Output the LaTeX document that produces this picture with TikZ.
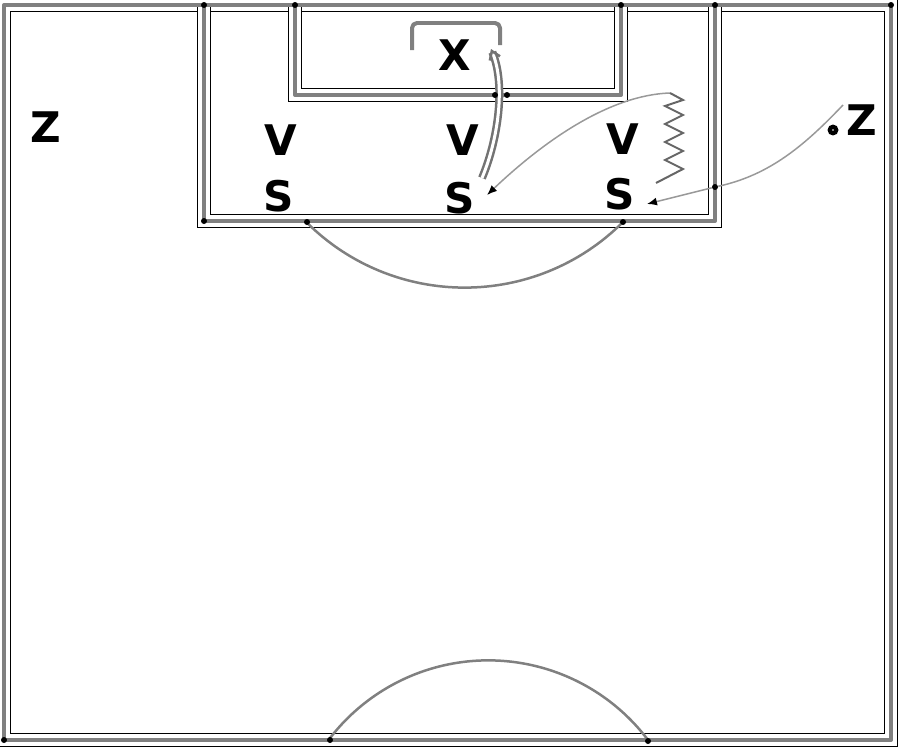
\documentclass[tikz,border=0pt]{standalone}
\usepackage{fontspec}
\setmainfont{DejaVu Sans}
\usetikzlibrary{arrows.meta}
\tikzset{
  rail/.style={draw=black, line width=0.02cm, double=white, double distance=0.24cm},
  court/.style={draw=black!50, line width=0.08cm, line join=round},
  player/.style={font=\fontsize{24}{24}\selectfont\bfseries, inner sep=0pt},
  jdot/.style={circle, fill=black, inner sep=0pt, minimum size=0.12cm},
  run/.style={draw=black!40, line width=0.03cm},
  shot/.style={draw=black!55, line width=0.05cm, double=white, double distance=0.06cm},
}
\begin{document}
\begin{tikzpicture}[x=0.02cm, y=-0.02cm]
  \useasboundingbox (0,0) rectangle (900,747);
  % court
  \draw[rail] (4,5) rectangle (891,740);
  \draw[rail] (204,5) -- (204,221) -- (715,221) -- (715,5);
  \draw[rail] (295,5) -- (295,95) -- (621,95) -- (621,5);
  \draw[court] (4,5) rectangle (891,740);
  \draw[court] (204,5) -- (204,221) -- (715,221) -- (715,5);
  \draw[court] (295,5) -- (295,95) -- (621,95) -- (621,5);
  \draw[court, line width=0.05cm] (623,222) arc[start angle=45, end angle=135, radius=224];
  \draw[court, line width=0.05cm] (648,740) arc[start angle=323, end angle=217, radius=200];
  \draw[court, rounded corners=0.1cm] (412,50) -- (412,23) -- (500,23) -- (500,45);
  \foreach \p in {(4,740),(891,5),(204,5),(295,5),(621,5),(715,5),(204,221),(307,222),(623,222),(330,740),(648,741)}
    \node[jdot] at \p {};
  % players
  \node[player] (zL) at (46,127) {Z};
  \node[player] (v1) at (281,140) {V};
  \node[player] (s1) at (279,196) {S};
  \node[player] (v2) at (463,140) {V};
  \node[player] (s2) at (460,198) {S};
  \node[player] (v3) at (623,139) {V};
  \node[player] (s3) at (620,194) {S};
  \node[player] (x) at (455,55) {X};
  \node[player] (zR) at (862,120) {Z};
  \node[circle, fill=black, inner sep=0pt, minimum size=0.22cm] (ball) at (833,130) {};
  \fill[white] (ball) circle[radius=0.8];
  % moves
  \coordinate (shotA) at (482,178);
  \coordinate (shotB) at (491,49);
  \coordinate (passA) at (670,93);
  \coordinate (passB) at (487,195);
  \coordinate (zigE) at (656,183);
  \coordinate (runA) at (843,105);
  \node[jdot] (cross) at (715,187) {};
  \coordinate (runB) at (647,204);
  \draw[shot, -{Straight Barb[length=0.16cm, width=0.22cm]}] (shotA) .. controls (498,140) and (506,85) .. (shotB);
  \node[jdot] (c1) at (495,95) {};
  \node[jdot] (c2) at (507,95) {};
  \draw[run, -{Latex[length=0.2cm, width=0.16cm, color=black]}] (passA) .. controls (610,95) and (545,140) .. (passB);
  \draw[run, draw=black!60, line width=0.04cm] (passA) -- (683,100) -- (665,106) -- (683,115) -- (665,124)
    -- (683,133) -- (665,142) -- (683,151) -- (665,160) -- (683,169) -- (zigE);
  \draw[run] (runA) .. controls (805,145) and (770,175) .. (cross);
  \draw[run, -{Latex[length=0.2cm, width=0.16cm, color=black]}] (cross) -- (runB);
\end{tikzpicture}
\end{document}
